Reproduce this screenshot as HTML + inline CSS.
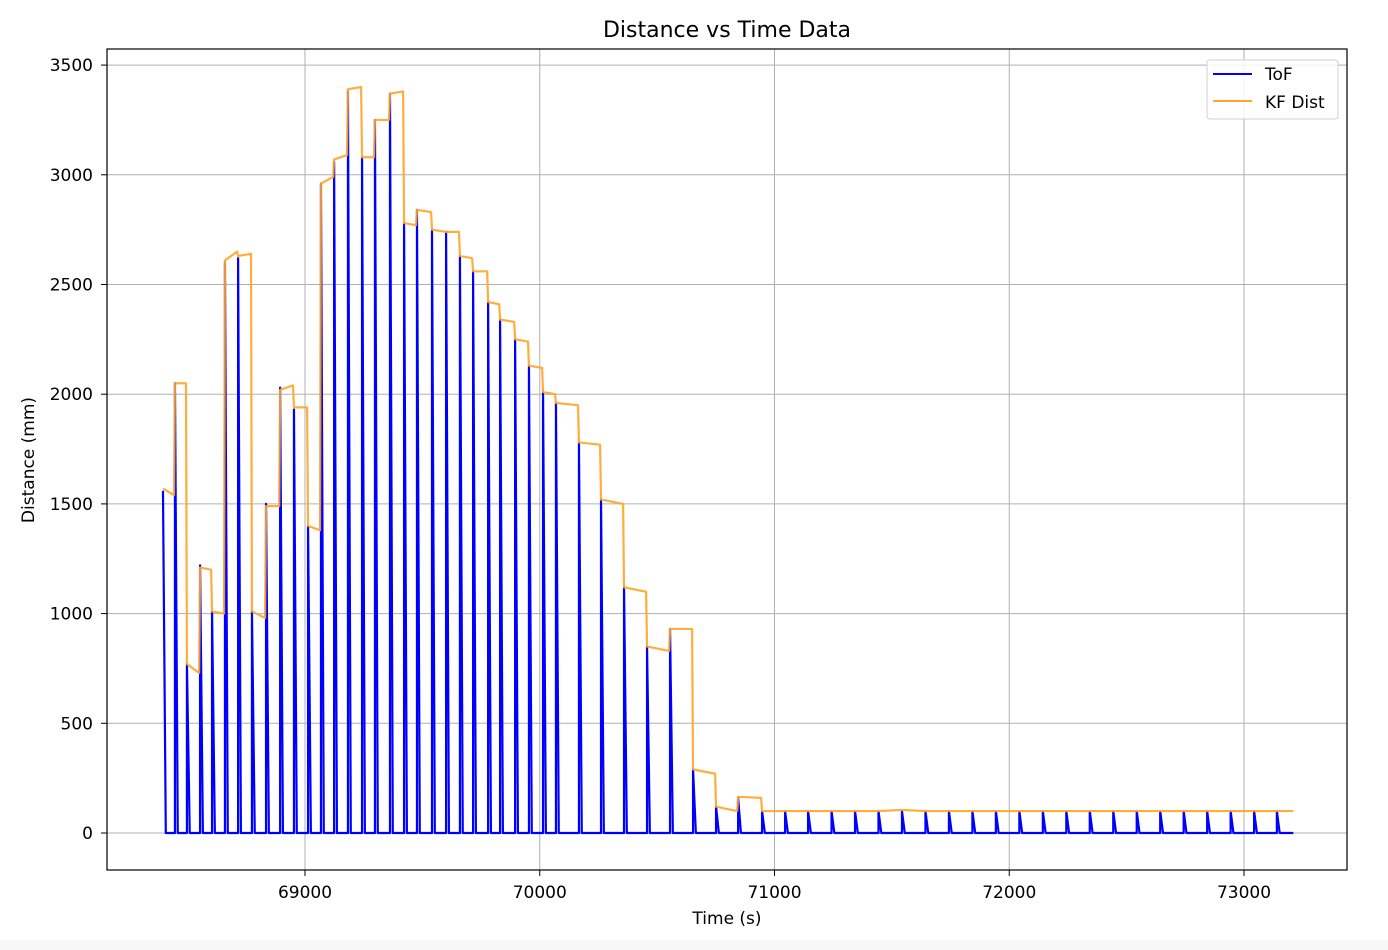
<!DOCTYPE html>
<html><head><meta charset="utf-8">
<style>
html,body{margin:0;padding:0;background:#fff;}
svg{display:block;font-family:"DejaVu Sans","Liberation Sans",sans-serif;}
</style></head>
<body>
<svg id="chart" width="1388" height="950" viewBox="0 0 1388 950" xmlns="http://www.w3.org/2000/svg">
<rect x="0" y="0" width="1388" height="950" fill="#fff"/>
<rect x="0" y="940" width="1388" height="10" fill="#f7f7f7"/>
<text x="727" y="37" text-anchor="middle" font-size="22" fill="#000">Distance vs Time Data</text>
<g id="grid"></g>
<g id="series"></g>
<rect x="107" y="49" width="1240" height="821" fill="none" stroke="#000" stroke-width="1.2"/>
<g id="ticks"></g>
<text x="727" y="924" text-anchor="middle" font-size="17" fill="#000">Time (s)</text>
<text transform="translate(34,460) rotate(-90)" text-anchor="middle" font-size="17" fill="#000">Distance (mm)</text>
<g>
<rect x="1207" y="60" width="131" height="59" rx="3" fill="#fff" fill-opacity="0.85" stroke="#d0d0d0"/>
<line x1="1213" y1="74" x2="1252" y2="74" stroke="#0000ff" stroke-width="2"/>
<text x="1265" y="80" font-size="17">ToF</text>
<line x1="1213" y1="101" x2="1252" y2="101" stroke="#ffa528" stroke-width="2"/>
<text x="1265" y="108" font-size="17">KF Dist</text>
</g>
</svg>
<script>
const times = [68395,68446,68497,68553,68604,68659,68715,68774,68834,68894,68953,69013,69068,69124,69183,69243,69298,69362,69422,69477,69541,69601,69660,69716,69780,69831,69895,69954,70014,70069,70167,70261,70359,70457,70555,70653,70751,70845,70947,71045,71143,71243,71343,71443,71543,71643,71743,71843,71943,72043,72143,72243,72343,72443,72543,72643,72743,72843,72943,73043,73140];
const tofValues = [1560,2050,770,1220,1010,2600,2620,1010,1500,2030,1930,1400,2960,3060,3380,3080,3250,3370,2780,2840,2750,2740,2630,2560,2420,2340,2250,2130,2010,1960,1780,1520,1120,850,930,290,120,160,100,100,100,100,100,100,100,100,100,100,100,100,100,100,100,100,100,100,100,100,100,100,100];
const kfStart = [1570,2050,770,1210,1010,2610,2630,1010,1490,2020,1940,1400,2960,3070,3390,3080,3250,3370,2780,2840,2750,2740,2630,2560,2420,2340,2250,2130,2010,1960,1780,1520,1120,850,930,290,120,165,100,100,100,100,100,100,105,100,100,100,100,100,100,100,100,100,100,100,100,100,100,100,100];
const kfEnd = [1540,2050,730,1200,1000,2650,2640,980,1490,2040,1940,1380,2990,3090,3400,3080,3250,3380,2770,2830,2740,2740,2620,2560,2410,2330,2240,2120,2000,1950,1770,1500,1100,830,930,270,100,160,100,100,100,100,100,105,100,100,100,100,100,100,100,100,100,100,100,100,100,100,100,100,100];
const endTime = 73210;
const xTicks = [69000,70000,71000,72000,73000];
const yTicks = [0,500,1000,1500,2000,2500,3000,3500];

const NS='http://www.w3.org/2000/svg';
const X = v => 305 + (v - 69000) * 0.23475;
const Y = v => 833 - v * 0.2194;
function mk(tag, attrs, parent){const e=document.createElementNS(NS,tag);for(const k in attrs)e.setAttribute(k,attrs[k]);parent.appendChild(e);return e;}
const grid=document.getElementById('grid'), ticks=document.getElementById('ticks'), series=document.getElementById('series');

xTicks.forEach(t=>{
  const gl=mk('line',{x1:X(t),x2:X(t),y1:49,y2:870,stroke:'#b0b0b0','stroke-width':1},grid);
  
  
  mk('line',{x1:X(t),x2:X(t),y1:870,y2:876,stroke:'#000'},ticks);
  const tx=mk('text',{x:X(t),y:898,'text-anchor':'middle','font-size':17},ticks);
  tx.textContent=t;
  
  
});
yTicks.forEach(t=>{
  const gl=mk('line',{x1:107,x2:1347,y1:Y(t),y2:Y(t),stroke:'#b0b0b0','stroke-width':1},grid);
  
  
  mk('line',{x1:101,x2:107,y1:Y(t),y2:Y(t),stroke:'#000'},ticks);
  const tx=mk('text',{x:93,y:Y(t)+6,'text-anchor':'end','font-size':17},ticks);
  tx.textContent=t;
  
  
});

// ToF series
let tofPts=[];
times.forEach((t,i)=>{
  if(i>0) tofPts.push([X(t),Y(0)]);
  tofPts.push([X(t),Y(tofValues[i])]);
  tofPts.push([X(t+12),Y(0)]);
});
tofPts.push([X(endTime),Y(0)]);
const tof=mk('polyline',{points:tofPts.map(p=>p.join(',')).join(' '),fill:'none',stroke:'#0000ff','stroke-width':2.2,'stroke-linejoin':'round'},series);



// KF series
let kfPts=[];
times.forEach((t,i)=>{
  const next = i<times.length-1 ? times[i+1]-4 : endTime;
  kfPts.push([X(t),Y(kfStart[i])]);
  kfPts.push([X(next),Y(kfEnd[i])]);
});
const kf=mk('polyline',{points:kfPts.map(p=>p.join(',')).join(' '),fill:'none',stroke:'#ffa528','stroke-opacity':0.9,'stroke-width':2.2,'stroke-linejoin':'round'},series);


</script>
</body></html>
